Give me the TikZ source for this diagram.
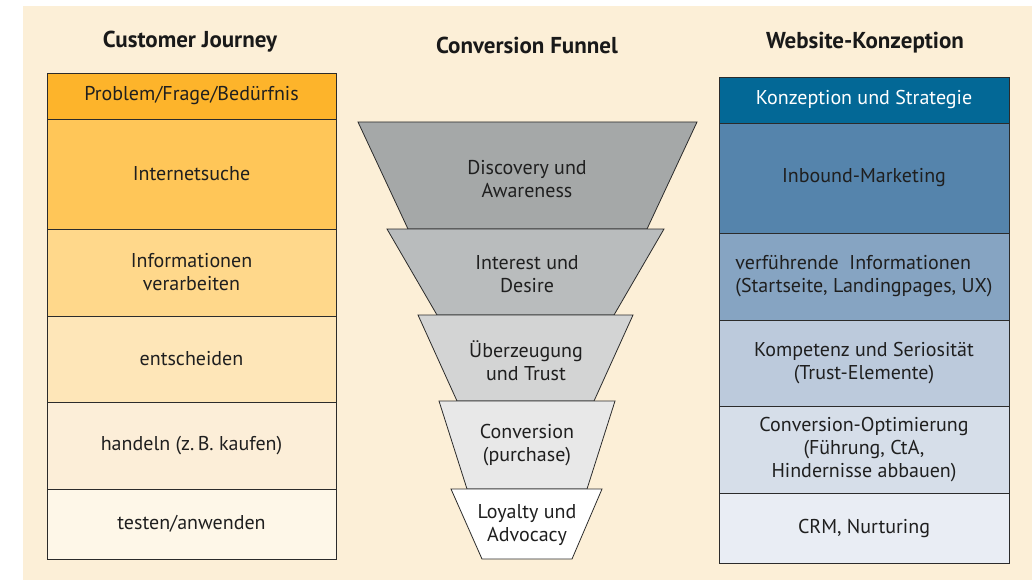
\documentclass[tikz,border=0pt]{standalone}
\usepackage{fontspec}
\setmainfont{PT Sans}
\usepackage{tikz}
\usetikzlibrary{positioning}
\definecolor{paper}{HTML}{FCEFD7}
\definecolor{jone}{HTML}{FDB42B}
\definecolor{jtwo}{HTML}{FFC658}
\definecolor{jthree}{HTML}{FFD88B}
\definecolor{jfour}{HTML}{FEE6B8}
\definecolor{jfive}{HTML}{FCEED8}
\definecolor{jsix}{HTML}{FEF7E8}
\definecolor{wone}{HTML}{036896}
\definecolor{wtwo}{HTML}{5584AC}
\definecolor{wthree}{HTML}{86A4C2}
\definecolor{wfour}{HTML}{BCCADC}
\definecolor{wfive}{HTML}{D6DEE9}
\definecolor{wsix}{HTML}{E9EDF4}
\definecolor{fone}{HTML}{A5A8A8}
\definecolor{ftwo}{HTML}{B9BCBD}
\definecolor{fthree}{HTML}{D3D4D4}
\definecolor{ffour}{HTML}{E8E8E8}
\definecolor{edge}{HTML}{2B2B2B}
\tikzset{
    heading/.style={font=\fontsize{23}{27}\selectfont\bfseries, text=black!90},
    stagetext/.style={font=\fontsize{20}{23}\selectfont, text=black!88, align=center},
    row/.style={draw=edge, line width=0.8pt, rectangle, inner sep=0pt,
        minimum width=#1, stagetext},
    jrow/.style={row=289pt},
    wrow/.style={row=290pt},
    stage/.style={draw=edge, line width=0.8pt, line join=miter}
}

\begin{document}
\begin{tikzpicture}[x=1pt, y=-1pt]
\useasboundingbox (0,0) rectangle (1032,580);
\fill[paper] (23,6) rectangle (1032,580);

\node[heading] (journey) at (190,42) {Customer Journey};
\node[heading] (funnel) at (527,45) {Conversion Funnel};
\node[heading] (konzeption) at (865,43) {Website-Konzeption};

\node[jrow, fill=jone, minimum height=46pt] (problem) at (191.5,96) {Problem/Frage/Bedürfnis};
\node[jrow, fill=jtwo, minimum height=110pt] (suche) at (191.5,174) {Internetsuche};
\node[jrow, fill=jthree, minimum height=87pt] (infos) at (191.5,272.5) {Informationen\\verarbeiten};
\node[jrow, fill=jfour, minimum height=86pt] (entscheiden) at (191.5,359) {entscheiden};
\node[jrow, fill=jfive, minimum height=87pt] (handeln) at (191.5,445.5) {handeln (z.\,B. kaufen)};
\node[jrow, fill=jsix, minimum height=70pt] (testen) at (191.5,524) {testen/anwenden};

\draw[stage, fill=fone] (358,122) -- (697,122) -- (647,229) -- (408,229) -- cycle;
\draw[stage, fill=ftwo] (387,229) -- (664,229) -- (614,315) -- (437,315) -- cycle;
\draw[stage, fill=fthree] (418,315) -- (633,315) -- (594,401) -- (457,401) -- cycle;
\draw[stage, fill=ffour] (439,401) -- (615,401) -- (587,489) -- (467,489) -- cycle;
\draw[stage, fill=white] (451,489) -- (602,489) -- (572,559) -- (482,559) -- cycle;
\node[stagetext] (discovery) at (527,179) {Discovery und\\Awareness};
\node[stagetext] (interest) at (527,274) {Interest und\\Desire};
\node[stagetext] (trust) at (526,361) {Überzeugung\\und Trust};
\node[stagetext] (conversion) at (527,445) {Conversion\\(purchase)};
\node[stagetext] (loyalty) at (527,525) {Loyalty und\\Advocacy};

\node[wrow, fill=wone, minimum height=46pt, text=white] (strategie) at (864,100) {Konzeption und Strategie};
\node[wrow, fill=wtwo, minimum height=110pt] (inbound) at (864,178) {Inbound-Marketing};
\node[wrow, fill=wthree, minimum height=87pt] (verfuehrung) at (864,276.5) {\begin{tabular}{@{}l@{}}verführende\ \ Informationen\\(Startseite, Landingpages, UX)\end{tabular}};
\node[wrow, fill=wfour, minimum height=86pt] (kompetenz) at (864,363) {Kompetenz und Seriosität\\(Trust-Elemente)};
\node[wrow, fill=wfive, minimum height=87pt] (optimierung) at (864,449.5) {Conversion-Optimierung\\(Führung, CtA,\\Hindernisse abbauen)};
\node[wrow, fill=wsix, minimum height=70pt] (crm) at (864,528) {CRM, Nurturing};
\end{tikzpicture}
\end{document}
